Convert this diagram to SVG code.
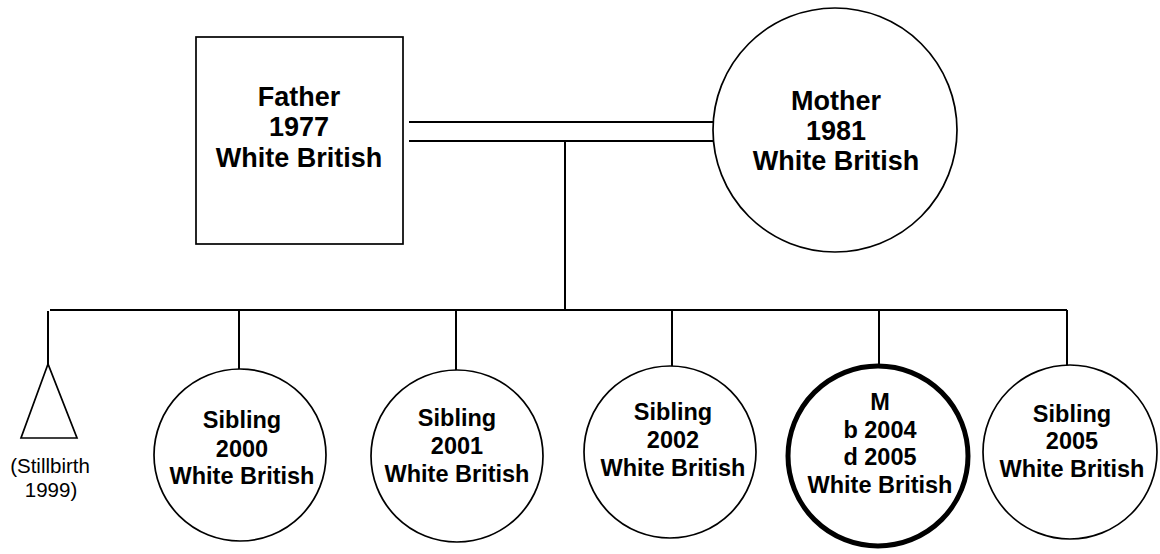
<svg xmlns="http://www.w3.org/2000/svg" width="1160" height="554" viewBox="0 0 1160 554">
  <style>
    .shape { fill: #fff; stroke: #000; stroke-width: 1.7; }
    .index { fill: #fff; stroke: #000; stroke-width: 5; }
    .link { fill: none; stroke: #000; stroke-width: 2; }
    .parent { font-family: "Liberation Sans", Arial, sans-serif; font-weight: bold; font-size: 27px; text-anchor: middle; fill: #000; }
    .child { font-family: "Liberation Sans", Arial, sans-serif; font-weight: bold; font-size: 23.5px; text-anchor: middle; fill: #000; }
    .note { font-family: "Liberation Sans", Arial, sans-serif; font-size: 20.5px; text-anchor: middle; fill: #000; }
  </style>
  <rect width="1160" height="554" fill="#fff"/>

  <!-- connectors: marriage lines, descent line, sibship line and drops -->
  <g id="connectors">
    <line class="link" x1="409" y1="122" x2="715" y2="122"/>
    <line class="link" x1="409" y1="141" x2="715" y2="141"/>
    <line class="link" x1="565" y1="141" x2="565" y2="310"/>
    <line class="link" x1="50" y1="310" x2="1067" y2="310"/>
    <line class="link" x1="48" y1="311" x2="48" y2="364"/>
    <line class="link" x1="239" y1="310" x2="239" y2="369"/>
    <line class="link" x1="456" y1="310" x2="456" y2="370"/>
    <line class="link" x1="672" y1="310" x2="672" y2="366"/>
    <line class="link" x1="879" y1="310" x2="879" y2="364"/>
    <line class="link" x1="1067" y1="310" x2="1067" y2="366"/>
  </g>

  <g id="father">
    <rect class="shape" x="196" y="37" width="207" height="207"/>
    <text class="parent" x="299" y="105.5">Father</text>
    <text class="parent" x="299" y="136">1977</text>
    <text class="parent" x="299" y="166.5">White British</text>
  </g>

  <g id="mother">
    <circle class="shape" cx="835" cy="130" r="122"/>
    <text class="parent" x="836" y="109.5">Mother</text>
    <text class="parent" x="836" y="139.5">1981</text>
    <text class="parent" x="836" y="170">White British</text>
  </g>

  <g id="stillbirth">
    <polygon class="shape" points="48,364 21,438 77,438"/>
    <text class="note" x="50" y="472.5">(Stillbirth</text>
    <text class="note" x="51" y="496.5">1999)</text>
  </g>

  <g id="sibling-2000">
    <circle class="shape" cx="240" cy="455" r="86"/>
    <text class="child" x="242" y="428">Sibling</text>
    <text class="child" x="242" y="456.5">2000</text>
    <text class="child" x="242" y="484">White British</text>
  </g>

  <g id="sibling-2001">
    <circle class="shape" cx="457" cy="456" r="86"/>
    <text class="child" x="457" y="426">Sibling</text>
    <text class="child" x="457" y="453.5">2001</text>
    <text class="child" x="457" y="481.5">White British</text>
  </g>

  <g id="sibling-2002">
    <circle class="shape" cx="670" cy="452" r="86"/>
    <text class="child" x="673" y="420">Sibling</text>
    <text class="child" x="673" y="448">2002</text>
    <text class="child" x="673" y="476">White British</text>
  </g>

  <g id="m">
    <circle class="index" cx="878" cy="456" r="90"/>
    <text class="child" x="880" y="410">M</text>
    <text class="child" x="880" y="437.5">b 2004</text>
    <text class="child" x="880" y="465">d 2005</text>
    <text class="child" x="880" y="492.5">White British</text>
  </g>

  <g id="sibling-2005">
    <circle class="shape" cx="1070" cy="452" r="87"/>
    <text class="child" x="1072" y="421.5">Sibling</text>
    <text class="child" x="1072" y="449">2005</text>
    <text class="child" x="1072" y="476.5">White British</text>
  </g>
</svg>
